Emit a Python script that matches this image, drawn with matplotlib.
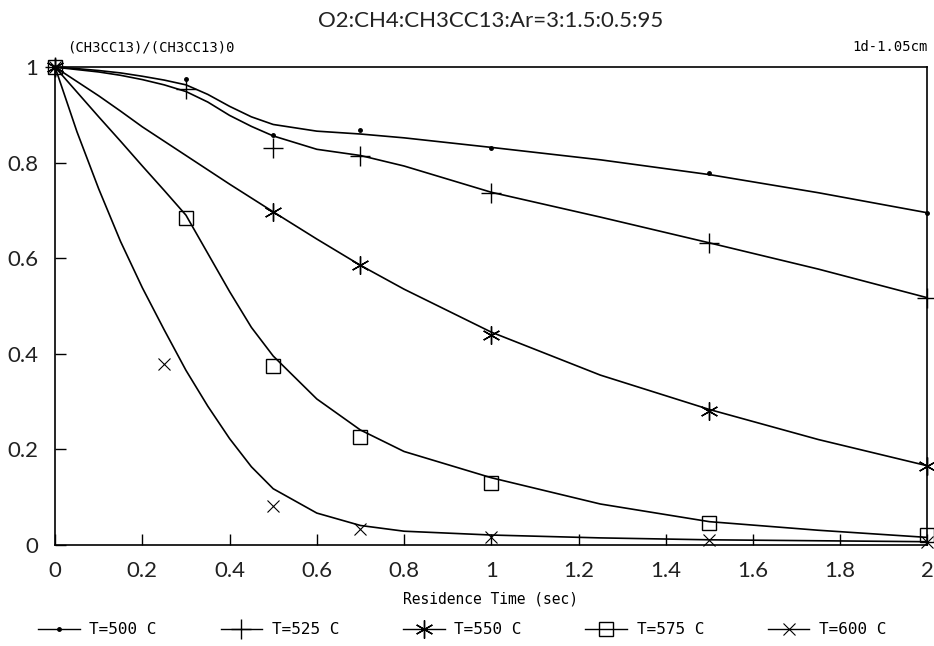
import numpy as np
import matplotlib
matplotlib.use('Agg')
import matplotlib.pyplot as plt
from matplotlib.lines import Line2D

# measured points
time_pts = [0.0, 0.3, 0.5, 0.7, 1.0, 1.5, 2.0]
t500_pts = [1.0, 0.975, 0.857, 0.869, 0.831, 0.779, 0.695]
t525_pts = [1.0, 0.955, 0.831, 0.815, 0.736, 0.632, 0.517]
time_550 = [0.0, 0.5, 0.7, 1.0, 1.5, 2.0]
t550_pts = [1.0, 0.697, 0.585, 0.44, 0.28, 0.165]
t575_pts = [1.0, 0.684, 0.375, 0.226, 0.128, 0.045, 0.02]
time_600 = [0.0, 0.25, 0.5, 0.7, 1.0, 1.5, 2.0]
t600_pts = [1.0, 0.378, 0.08, 0.032, 0.015, 0.01, 0.005]

# fitted curves
curve_t = [0.0, 0.05, 0.1, 0.15, 0.2, 0.25, 0.3, 0.35, 0.4, 0.45, 0.5,
           0.6, 0.7, 0.8, 1.0, 1.25, 1.5, 1.75, 2.0]
t500_fit = [1.0, 0.997, 0.993, 0.988, 0.981, 0.973, 0.963, 0.943, 0.918, 0.896, 0.88,
            0.866, 0.86, 0.852, 0.832, 0.806, 0.775, 0.737, 0.695]
t525_fit = [1.0, 0.995, 0.99, 0.983, 0.974, 0.963, 0.949, 0.927, 0.899, 0.876, 0.856,
            0.828, 0.815, 0.793, 0.738, 0.686, 0.632, 0.577, 0.517]
t550_fit = [1.0, 0.97, 0.94, 0.908, 0.875, 0.845, 0.815, 0.785, 0.755, 0.726, 0.697,
            0.64, 0.585, 0.535, 0.445, 0.355, 0.283, 0.22, 0.165]
t575_fit = [1.0, 0.948, 0.896, 0.845, 0.793, 0.742, 0.69, 0.61, 0.53, 0.455, 0.395,
            0.305, 0.24, 0.195, 0.14, 0.085, 0.048, 0.03, 0.015]
t600_fit = [1.0, 0.865, 0.745, 0.635, 0.538, 0.45, 0.365, 0.29, 0.222, 0.163, 0.117,
            0.066, 0.04, 0.028, 0.02, 0.014, 0.01, 0.008, 0.006]

labels = ['T=500 C', 'T=525 C', 'T=550 C', 'T=575 C', 'T=600 C']
x_ticks = [0, 0.2, 0.4, 0.6, 0.8, 1.0, 1.2, 1.4, 1.6, 1.8, 2.0]
x_tick_labels = ['0', '0.2', '0.4', '0.6', '0.8', '1', '1.2', '1.4', '1.6', '1.8', '2']
y_ticks = [0, 0.2, 0.4, 0.6, 0.8, 1.0]
y_tick_labels = ['0', '0.2', '0.4', '0.6', '0.8', '1']

tick_font = 'Lato'
mono = 'DejaVu Sans Mono'

fig = plt.figure(figsize=(9.34, 6.46), dpi=100)
ax = fig.add_axes([0.059, 0.157, 0.934, 0.739])

styles = [
    dict(marker='.', markersize=5),
    dict(marker='+', markersize=15, markeredgewidth=1.0),
    dict(marker=(6, 2, 0), markersize=13, markeredgewidth=1.0),
    dict(marker='s', markersize=10, markerfacecolor='none', markeredgewidth=1.0),
    dict(marker='x', markersize=9, markeredgewidth=0.8),
]
point_x = [time_pts, time_pts, time_550, time_pts, time_600]
point_y = [t500_pts, t525_pts, t550_pts, t575_pts, t600_pts]
fits = [t500_fit, t525_fit, t550_fit, t575_fit, t600_fit]

for px, py, fit, st in zip(point_x, point_y, fits, styles):
    ax.plot(curve_t, fit, color='black', linewidth=1.2)
    ax.plot(px, py, linestyle='none', color='black', clip_on=False, **st)

ax.set_xlim(0, 2)
ax.set_ylim(0, 1)
ax.set_xticks(x_ticks, x_tick_labels)
ax.set_yticks(y_ticks, y_tick_labels)
ax.tick_params(direction='in', length=8, width=1, labelsize=16, pad=12)
for lab in ax.get_xticklabels() + ax.get_yticklabels():
    lab.set_fontfamily(tick_font)
    lab.set_color('#222222')
for sp in ax.spines.values():
    sp.set_linewidth(1.2)

fig.text(0.525, 0.968, 'O2:CH4:CH3CC13:Ar=3:1.5:0.5:95', ha='center', va='center',
         fontsize=16, fontfamily=tick_font, color='#222222')
fig.text(0.072, 0.927, '(CH3CC13)/(CH3CC13)0', ha='left', va='center',
         fontsize=10, fontfamily=mono)
fig.text(0.993, 0.927, '1d-1.05cm', ha='right', va='center',
         fontsize=10, fontfamily=mono)
fig.text(0.525, 0.073, 'Residence Time (sec)', ha='center', va='center',
         fontsize=10.5, fontfamily=mono)

handles = [Line2D([], [], color='black', linewidth=1.0, **st) for st in styles]
fig.legend(handles, labels, loc='center', bbox_to_anchor=(0.495, 0.025), ncol=5,
           frameon=False, handlelength=2.6, columnspacing=4.0, handletextpad=0.6,
           prop={'family': mono, 'size': 11.5})

fig.savefig('out.png', dpi=100)
